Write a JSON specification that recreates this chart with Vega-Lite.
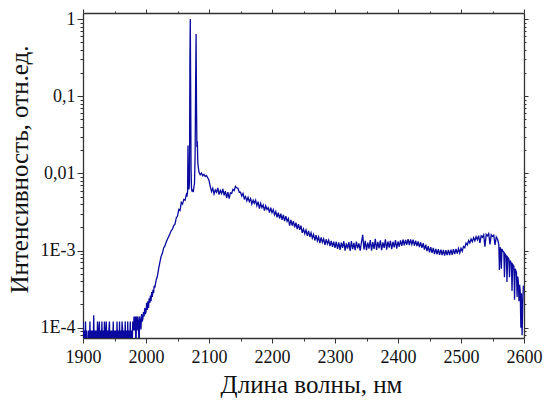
{
  "$schema": "https://vega.github.io/schema/vega-lite/v6.json",
  "width": 441,
  "height": 325,
  "autosize": {"type": "none"},
  "padding": {"left": 83, "top": 13, "right": 22, "bottom": 66},
  "background": "white",
  "config": {
    "font": "Liberation Serif",
    "view": {"stroke": null},
    "axis": {
      "labelFont": "Liberation Serif",
      "titleFont": "Liberation Serif",
      "labelFontSize": 18,
      "titleFontSize": 25,
      "titleFontWeight": "normal",
      "labelColor": "#111",
      "titleColor": "#111",
      "domainColor": "#333",
      "domainWidth": 1.3,
      "tickColor": "#333",
      "tickWidth": 1,
      "grid": false
    }
  },
  "data": {"values": [
    {"w":1900,"v":0.00012},{"w":1901,"v":0.00005},{"w":1902,"v":0.000092},{"w":1903,"v":0.00005},{"w":1904,"v":0.00012},{"w":1905,"v":0.00005},{"w":1906,"v":0.000092},{"w":1907,"v":0.00005},{"w":1908,"v":0.00005},{"w":1909,"v":0.000092},
    {"w":1910,"v":0.00005},{"w":1911,"v":0.00012},{"w":1912,"v":0.00005},{"w":1913,"v":0.000092},{"w":1914,"v":0.00005},{"w":1915,"v":0.000092},{"w":1916,"v":0.00005},{"w":1917,"v":0.000145},{"w":1918,"v":0.00005},{"w":1919,"v":0.000092},
    {"w":1920,"v":0.00005},{"w":1921,"v":0.000092},{"w":1922,"v":0.00005},{"w":1923,"v":0.00012},{"w":1924,"v":0.00005},{"w":1925,"v":0.000092},{"w":1926,"v":0.00012},{"w":1927,"v":0.00005},{"w":1928,"v":0.000092},{"w":1929,"v":0.00005},
    {"w":1930,"v":0.00012},{"w":1931,"v":0.00005},{"w":1932,"v":0.000092},{"w":1933,"v":0.00005},{"w":1934,"v":0.00012},{"w":1935,"v":0.000092},{"w":1936,"v":0.00005},{"w":1937,"v":0.00012},{"w":1938,"v":0.00005},{"w":1939,"v":0.000092},
    {"w":1940,"v":0.00005},{"w":1941,"v":0.000092},{"w":1942,"v":0.00012},{"w":1943,"v":0.00005},{"w":1944,"v":0.000092},{"w":1945,"v":0.00005},{"w":1946,"v":0.000092},{"w":1947,"v":0.00005},{"w":1948,"v":0.00012},{"w":1949,"v":0.00005},
    {"w":1950,"v":0.000092},{"w":1951,"v":0.00005},{"w":1952,"v":0.000092},{"w":1953,"v":0.00005},{"w":1954,"v":0.00012},{"w":1955,"v":0.00005},{"w":1956,"v":0.000092},{"w":1957,"v":0.00005},{"w":1958,"v":0.00012},{"w":1959,"v":0.00005},
    {"w":1960,"v":0.000092},{"w":1961,"v":0.00005},{"w":1962,"v":0.00012},{"w":1963,"v":0.000092},{"w":1964,"v":0.00005},{"w":1965,"v":0.000092},{"w":1966,"v":0.00005},{"w":1967,"v":0.00012},{"w":1968,"v":0.00005},{"w":1969,"v":0.000092},
    {"w":1970,"v":0.00005},{"w":1971,"v":0.00012},{"w":1972,"v":0.00005},{"w":1973,"v":0.000092},{"w":1974,"v":0.00005},{"w":1975,"v":0.00012},{"w":1976,"v":0.00005},{"w":1977,"v":0.000092},{"w":1978,"v":0.00005},{"w":1979,"v":0.00012},
    {"w":1980,"v":0.000092},{"w":1981,"v":0.00014},{"w":1982,"v":0.000092},{"w":1983,"v":0.00014},{"w":1984,"v":0.00005},{"w":1985,"v":0.00014},{"w":1986,"v":0.000092},{"w":1987,"v":0.00014},{"w":1988,"v":0.00012},{"w":1989,"v":0.00005},
    {"w":1990,"v":0.00014},{"w":1991,"v":0.00012},{"w":1992,"v":0.000095},{"w":1993,"v":0.00015},{"w":1994,"v":0.00012},{"w":1995,"v":0.00013},{"w":1996,"v":0.00016},{"w":1997,"v":0.00014},{"w":1998,"v":0.00018},{"w":1999,"v":0.00015},
    {"w":2000,"v":0.00016},{"w":2001,"v":0.00021},{"w":2002,"v":0.00017},{"w":2003,"v":0.00022},{"w":2004,"v":0.00018},{"w":2005,"v":0.00024},{"w":2006,"v":0.00021},{"w":2007,"v":0.00026},{"w":2008,"v":0.00022},{"w":2009,"v":0.00029},
    {"w":2010,"v":0.00025},{"w":2011,"v":0.00031},{"w":2012,"v":0.00028},{"w":2013,"v":0.00035},{"w":2014,"v":0.00033},{"w":2016,"v":0.00041},{"w":2018,"v":0.00046},{"w":2020,"v":0.00058},{"w":2022,"v":0.0007},{"w":2024,"v":0.00084},
    {"w":2026,"v":0.00092},{"w":2028,"v":0.00108},{"w":2030,"v":0.00115},{"w":2032,"v":0.00128},{"w":2034,"v":0.0014},{"w":2036,"v":0.00152},{"w":2038,"v":0.00165},{"w":2040,"v":0.0018},{"w":2042,"v":0.0019},{"w":2044,"v":0.0021},
    {"w":2046,"v":0.0022},{"w":2048,"v":0.00265},{"w":2050,"v":0.0028},{"w":2052,"v":0.0034},{"w":2054,"v":0.0033},{"w":2056,"v":0.0042},{"w":2058,"v":0.004},{"w":2060,"v":0.0046},{"w":2062,"v":0.0045},{"w":2064,"v":0.0053},
    {"w":2065,"v":0.005},{"w":2066,"v":0.0058},{"w":2066.6,"v":0.023},{"w":2067.4,"v":0.0065},{"w":2068.2,"v":0.0062},{"w":2069,"v":0.0075},{"w":2069.7,"v":0.3},
    {"w":2070.3,"v":1.0},{"w":2070.9,"v":0.12},{"w":2071.5,"v":0.012},{"w":2072.2,"v":0.0065},{"w":2073,"v":0.0058},{"w":2074,"v":0.0062},{"w":2075,"v":0.0057},{"w":2076,"v":0.0066},{"w":2077,"v":0.0075},{"w":2078,"v":0.018},
    {"w":2078.8,"v":0.15},{"w":2079.5,"v":0.64},{"w":2080.2,"v":0.07},{"w":2080.8,"v":0.022},{"w":2081.5,"v":0.026},{"w":2082.2,"v":0.014},{"w":2083,"v":0.012},{"w":2084,"v":0.0105},{"w":2086,"v":0.0096},{"w":2088,"v":0.0101},
    {"w":2090,"v":0.0093},{"w":2092,"v":0.0097},{"w":2094,"v":0.0091},{"w":2096,"v":0.0094},{"w":2098,"v":0.0088},{"w":2100,"v":0.0081},{"w":2102,"v":0.0068},{"w":2104,"v":0.0058},{"w":2106,"v":0.0064},{"w":2108,"v":0.0054},
    {"w":2110,"v":0.0061},{"w":2112,"v":0.0057},{"w":2114,"v":0.0065},{"w":2116,"v":0.0053},{"w":2118,"v":0.006},{"w":2120,"v":0.0055},{"w":2122,"v":0.0063},{"w":2124,"v":0.0052},{"w":2126,"v":0.0059},{"w":2128,"v":0.0048},
    {"w":2130,"v":0.0057},{"w":2132,"v":0.0047},{"w":2134,"v":0.0056},{"w":2136,"v":0.0055},{"w":2138,"v":0.0062},{"w":2140,"v":0.006},{"w":2142,"v":0.0068},{"w":2144,"v":0.0065},{"w":2146,"v":0.0064},{"w":2148,"v":0.0057},
    {"w":2150,"v":0.0057},{"w":2152,"v":0.0051},{"w":2154,"v":0.0055},{"w":2156,"v":0.0047},{"w":2158,"v":0.005},{"w":2160,"v":0.0044},{"w":2162,"v":0.0049},{"w":2164,"v":0.0043},{"w":2166,"v":0.0047},{"w":2168,"v":0.004},
    {"w":2170,"v":0.0045},{"w":2172,"v":0.0041},{"w":2174,"v":0.0045},{"w":2176,"v":0.0038},{"w":2178,"v":0.0043},{"w":2180,"v":0.0035},{"w":2182,"v":0.0041},{"w":2184,"v":0.0036},{"w":2186,"v":0.0039},{"w":2188,"v":0.0033},
    {"w":2190,"v":0.0038},{"w":2192,"v":0.0034},{"w":2194,"v":0.0036},{"w":2196,"v":0.0031},{"w":2198,"v":0.0036},{"w":2200,"v":0.0031},{"w":2202,"v":0.0034},{"w":2204,"v":0.0029},{"w":2206,"v":0.0032},{"w":2208,"v":0.0027},
    {"w":2210,"v":0.0031},{"w":2212,"v":0.0026},{"w":2214,"v":0.003},{"w":2216,"v":0.0025},{"w":2218,"v":0.0029},{"w":2220,"v":0.0024},{"w":2222,"v":0.0028},{"w":2224,"v":0.0024},{"w":2226,"v":0.0026},{"w":2228,"v":0.0021},
    {"w":2230,"v":0.0025},{"w":2232,"v":0.0021},{"w":2234,"v":0.0024},{"w":2236,"v":0.002},{"w":2238,"v":0.0023},{"w":2240,"v":0.0019},{"w":2242,"v":0.0022},{"w":2244,"v":0.00185},{"w":2246,"v":0.0021},{"w":2248,"v":0.0017},
    {"w":2250,"v":0.0019},{"w":2252,"v":0.00165},{"w":2254,"v":0.00185},{"w":2256,"v":0.00155},{"w":2258,"v":0.0018},{"w":2260,"v":0.0015},{"w":2262,"v":0.0017},{"w":2264,"v":0.00145},{"w":2266,"v":0.00162},{"w":2268,"v":0.00135},
    {"w":2270,"v":0.00158},{"w":2272,"v":0.00133},{"w":2274,"v":0.0015},{"w":2276,"v":0.00125},{"w":2278,"v":0.00148},{"w":2280,"v":0.00128},{"w":2282,"v":0.00142},{"w":2284,"v":0.00118},{"w":2286,"v":0.0014},{"w":2288,"v":0.00122},
    {"w":2290,"v":0.00136},{"w":2292,"v":0.00114},{"w":2294,"v":0.00133},{"w":2296,"v":0.00112},{"w":2298,"v":0.0013},{"w":2300,"v":0.00108},{"w":2302,"v":0.0013},{"w":2304,"v":0.00105},{"w":2306,"v":0.00128},{"w":2308,"v":0.00102},
    {"w":2310,"v":0.00127},{"w":2312,"v":0.00108},{"w":2314,"v":0.00132},{"w":2316,"v":0.001},{"w":2318,"v":0.00124},{"w":2320,"v":0.00106},{"w":2322,"v":0.00129},{"w":2324,"v":0.00099},{"w":2326,"v":0.00133},{"w":2328,"v":0.00104},
    {"w":2330,"v":0.00126},{"w":2332,"v":0.00101},{"w":2334,"v":0.00131},{"w":2336,"v":0.00107},{"w":2338,"v":0.00124},{"w":2340,"v":0.001},{"w":2342,"v":0.00128},{"w":2344,"v":0.0016},{"w":2346,"v":0.00103},{"w":2348,"v":0.00134},
    {"w":2350,"v":0.00101},{"w":2352,"v":0.00127},{"w":2354,"v":0.00106},{"w":2356,"v":0.00137},{"w":2358,"v":0.001},{"w":2360,"v":0.00129},{"w":2362,"v":0.00105},{"w":2364,"v":0.00142},{"w":2366,"v":0.00102},{"w":2368,"v":0.0013},
    {"w":2370,"v":0.00107},{"w":2372,"v":0.00136},{"w":2374,"v":0.00101},{"w":2376,"v":0.00128},{"w":2378,"v":0.00108},{"w":2380,"v":0.0014},{"w":2382,"v":0.00103},{"w":2384,"v":0.00131},{"w":2386,"v":0.00109},{"w":2388,"v":0.00134},
    {"w":2390,"v":0.00104},{"w":2392,"v":0.0013},{"w":2394,"v":0.0011},{"w":2396,"v":0.00137},{"w":2398,"v":0.00106},{"w":2400,"v":0.00131},{"w":2402,"v":0.00112},{"w":2404,"v":0.00135},{"w":2406,"v":0.00115},{"w":2408,"v":0.00139},
    {"w":2410,"v":0.00117},{"w":2412,"v":0.00137},{"w":2414,"v":0.00119},{"w":2416,"v":0.00141},{"w":2418,"v":0.00118},{"w":2420,"v":0.00139},{"w":2422,"v":0.0012},{"w":2424,"v":0.00138},{"w":2426,"v":0.00116},{"w":2428,"v":0.00134},
    {"w":2430,"v":0.00114},{"w":2432,"v":0.00131},{"w":2434,"v":0.00111},{"w":2436,"v":0.00128},{"w":2438,"v":0.00108},{"w":2440,"v":0.00125},{"w":2442,"v":0.00103},{"w":2444,"v":0.00119},{"w":2446,"v":0.00098},{"w":2448,"v":0.00114},
    {"w":2450,"v":0.00095},{"w":2452,"v":0.00111},{"w":2454,"v":0.00093},{"w":2456,"v":0.00108},{"w":2458,"v":0.0009},{"w":2460,"v":0.00105},{"w":2462,"v":0.00089},{"w":2464,"v":0.00104},{"w":2466,"v":0.00088},{"w":2468,"v":0.00103},
    {"w":2470,"v":0.00087},{"w":2472,"v":0.00102},{"w":2474,"v":0.00086},{"w":2476,"v":0.00101},{"w":2478,"v":0.00087},{"w":2480,"v":0.00102},{"w":2482,"v":0.00087},{"w":2484,"v":0.00103},{"w":2486,"v":0.00088},{"w":2488,"v":0.00104},
    {"w":2490,"v":0.0009},{"w":2492,"v":0.00105},{"w":2494,"v":0.00091},{"w":2496,"v":0.00106},{"w":2498,"v":0.00093},{"w":2500,"v":0.00107},{"w":2502,"v":0.00098},{"w":2504,"v":0.00113},{"w":2506,"v":0.00109},{"w":2508,"v":0.00125},
    {"w":2510,"v":0.00118},{"w":2512,"v":0.00135},{"w":2514,"v":0.00125},{"w":2516,"v":0.00141},{"w":2518,"v":0.0013},{"w":2520,"v":0.00147},{"w":2522,"v":0.00134},{"w":2524,"v":0.00151},{"w":2526,"v":0.00138},{"w":2528,"v":0.00156},
    {"w":2530,"v":0.00126},{"w":2532,"v":0.00155},{"w":2534,"v":0.00148},{"w":2536,"v":0.0016},{"w":2538,"v":0.00112},{"w":2540,"v":0.00162},{"w":2542,"v":0.00155},{"w":2544,"v":0.00166},{"w":2546,"v":0.0012},{"w":2548,"v":0.0016},
    {"w":2550,"v":0.00152},{"w":2552,"v":0.00158},{"w":2554,"v":0.00118},{"w":2556,"v":0.0015},{"w":2558,"v":0.0014},{"w":2560,"v":0.0012},{"w":2561,"v":0.00056},{"w":2562,"v":0.0011},{"w":2563,"v":0.00106},{"w":2564,"v":0.00058},
    {"w":2565,"v":0.00105},{"w":2566,"v":0.001},{"w":2568,"v":0.00095},{"w":2569,"v":0.00045},{"w":2570,"v":0.0009},{"w":2572,"v":0.00085},{"w":2573,"v":0.00039},{"w":2574,"v":0.00082},{"w":2576,"v":0.00078},{"w":2577,"v":0.00045},
    {"w":2578,"v":0.00074},{"w":2580,"v":0.00068},{"w":2581,"v":0.0003},{"w":2582,"v":0.00066},{"w":2584,"v":0.00062},{"w":2585,"v":0.00023},{"w":2586,"v":0.00058},{"w":2588,"v":0.00052},{"w":2589,"v":0.00025},{"w":2590,"v":0.00046},
    {"w":2591,"v":0.0004},{"w":2592,"v":0.00022},{"w":2593,"v":0.00036},{"w":2594,"v":0.0003},{"w":2595,"v":0.0001},{"w":2596,"v":0.00028},{"w":2597,"v":0.00008},{"w":2598,"v":0.0002},{"w":2599,"v":0.00035},{"w":2600,"v":0.00031}
  ]},
  "layer": [
    {
      "mark": {"type": "line", "color": "#0a0aa0", "strokeWidth": 1.3, "clip": true},
      "encoding": {
        "x": {
          "field": "w", "type": "quantitative",
          "scale": {"domain": [1900, 2600], "nice": false, "zero": false},
          "axis": {
            "orient": "bottom",
            "title": "Длина волны, нм",
            "titleX": 228,
            "values": [1900,1950,2000,2050,2100,2150,2200,2250,2300,2350,2400,2450,2500,2550,2600],
            "labelExpr": "datum.value % 100 == 0 ? datum.label : ''",
            "format": "d",
            "tickSize": {"condition": {"test": "datum.value % 100 == 0", "value": 5}, "value": 3},
            "labelPadding": 5,
            "titlePadding": 6,
            "labelFlush": false,
            "labelOverlap": false
          }
        },
        "y": {
          "field": "v", "type": "quantitative",
          "scale": {"type": "log", "domain": [0.0000735, 1.2], "nice": false},
          "axis": {
            "orient": "left",
            "title": "Интенсивность, отн.ед.",
            "titleY": 156,
            "values": [0.00008,0.00009,0.0001,0.0002,0.0003,0.0004,0.0005,0.0006,0.0007,0.0008,0.0009,0.001,0.002,0.003,0.004,0.005,0.006,0.007,0.008,0.009,0.01,0.02,0.03,0.04,0.05,0.06,0.07,0.08,0.09,0.1,0.2,0.3,0.4,0.5,0.6,0.7,0.8,0.9,1],
            "labelExpr": "abs(datum.value - 0.0001) < 0.000001 ? '1E-4' : abs(datum.value - 0.001) < 0.00001 ? '1E-3' : abs(datum.value - 0.01) < 0.0001 ? '0,01' : abs(datum.value - 0.1) < 0.001 ? '0,1' : abs(datum.value - 1) < 0.01 ? '1' : ''",
            "tickSize": {"condition": {"test": "abs(log(datum.value)/log(10) - round(log(datum.value)/log(10))) < 0.01", "value": 6}, "value": 3},
            "labelPadding": 2,
            "titlePadding": 8,
            "labelOverlap": false,
            "labelFlush": false
          }
        }
      }
    },
    {
      "mark": {"type": "line", "opacity": 0},
      "encoding": {
        "x": {
          "field": "w", "type": "quantitative",
          "scale": {"domain": [1900, 2600], "nice": false, "zero": false},
          "axis": {
            "orient": "top", "title": null, "labels": false,
            "values": [1900,1950,2000,2050,2100,2150,2200,2250,2300,2350,2400,2450,2500,2550,2600],
            "tickSize": {"condition": {"test": "datum.value % 100 == 0", "value": 4}, "value": 2}
          }
        },
        "y": {
          "field": "v", "type": "quantitative",
          "scale": {"type": "log", "domain": [0.0000735, 1.2], "nice": false},
          "axis": {
            "orient": "right", "title": null, "labels": false,
            "values": [0.00008,0.00009,0.0001,0.0002,0.0003,0.0004,0.0005,0.0006,0.0007,0.0008,0.0009,0.001,0.002,0.003,0.004,0.005,0.006,0.007,0.008,0.009,0.01,0.02,0.03,0.04,0.05,0.06,0.07,0.08,0.09,0.1,0.2,0.3,0.4,0.5,0.6,0.7,0.8,0.9,1],
            "tickSize": {"condition": {"test": "abs(log(datum.value)/log(10) - round(log(datum.value)/log(10))) < 0.01", "value": 4}, "value": 2}
          }
        }
      }
    }
  ],
  "resolve": {"axis": {"x": "independent", "y": "independent"}}
}
